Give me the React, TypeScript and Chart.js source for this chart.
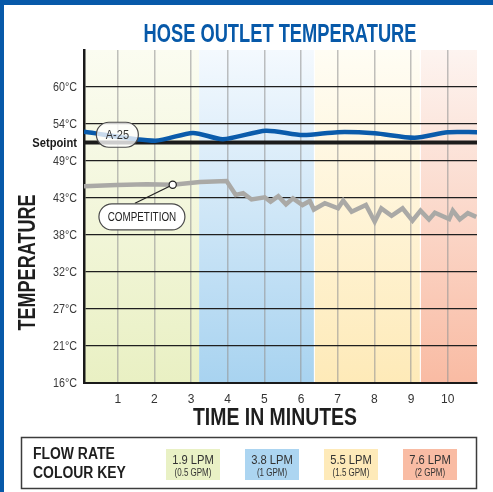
import React, { useEffect, useRef } from 'react';
import { Chart, registerables } from 'chart.js';

Chart.register(...registerables);

// ---- data ----
const xMin = 0.08;
const xMax = 10.8;
const xTicks = [1, 2, 3, 4, 5, 6, 7, 8, 9, 10];
const yTicksF = [60, 70, 80, 90, 100, 110, 120, 130, 140];
const yTickLabels = ['16°C', '21°C', '27°C', '32°C', '38°C', '43°C', '49°C', '54°C', '60°C'];
const yMinF = 60;
const yMaxF = 150;
const setpointF = 125;
const setpointLabel = 'Setpoint';

const a25Time = [0.08, 2.02, 3.05, 3.87, 5.04, 6.05, 7.0, 8.01, 9.1, 10.0, 10.8];
const a25TempF = [127.9, 125.5, 127.6, 125.9, 128.2, 127.0, 127.8, 127.5, 126.3, 127.8, 127.8];

const compTime = [0.08, 0.97, 1.79, 2.5, 3.24, 3.97, 4.22, 4.42, 4.65, 5.01, 5.17, 5.38, 5.59, 5.78, 6.04, 6.24, 6.35, 6.65, 7.01, 7.15, 7.38, 7.77, 8.01, 8.19, 8.47, 8.77, 9.04, 9.26, 9.49, 9.65, 10.04, 10.14, 10.33, 10.55, 10.78];
const compTempF = [113.2, 113.5, 113.7, 113.6, 114.3, 114.6, 110.8, 111.3, 109.6, 110.2, 109.0, 110.5, 108.3, 109.9, 108.1, 109.2, 106.9, 108.6, 107.2, 109.3, 106.3, 108.1, 103.6, 107.2, 105.2, 107.2, 103.9, 106.6, 104.2, 106.0, 104.3, 106.6, 104.2, 105.9, 104.9];

const flowLpm = ['1.9 LPM', '3.8 LPM', '5.5 LPM', '7.6 LPM'];
const flowGpm = ['(0.5 GPM)', '(1 GPM)', '(1.5 GPM)', '(2 GPM)'];
const flowStart = [0.08, 3.22, 6.38, 9.27];
const flowEnd = [3.22, 6.35, 9.24, 10.8];

const seriesNames = ['A-25', 'COMPETITION'];
const titleText = 'HOSE OUTLET TEMPERATURE';
const xTitle = 'TIME IN MINUTES';
const yTitle = 'TEMPERATURE';
const keyTitle = ['FLOW RATE', 'COLOUR KEY'];

// ---- styles ----
const BLUE = '#0759a9';
const bandTop = ['#fbfcf1', '#f4f9fe', '#fffdf4', '#fdf4f0'];
const bandBottom = ['#e9f0c3', '#a8d3f0', '#feeab8', '#f9bba3'];
const swatch = ['#e9f1c5', '#acd5f1', '#feeab9', '#f9bca4'];
const SANS = '"Liberation Sans", Arial, sans-serif';

function drawScaled(ctx: CanvasRenderingContext2D, text: string, x: number, y: number, font: string, color: string, sx: number, align: 'left' | 'center' | 'right' = 'center') {
  ctx.save();
  ctx.font = font;
  ctx.fillStyle = color;
  ctx.textBaseline = 'alphabetic';
  ctx.textAlign = 'left';
  const w = ctx.measureText(text).width * sx;
  const left = align === 'center' ? x - w / 2 : align === 'right' ? x - w : x;
  ctx.translate(left, y);
  ctx.scale(sx, 1);
  ctx.fillText(text, 0, 0);
  ctx.restore();
}

function drawFit(ctx: CanvasRenderingContext2D, text: string, cx: number, y: number, font: string, color: string, width: number) {
  ctx.save();
  ctx.font = font;
  const w = ctx.measureText(text).width;
  ctx.restore();
  drawScaled(ctx, text, cx, y, font, color, width / w, 'center');
}

function pill(ctx: CanvasRenderingContext2D, cx: number, cy: number, w: number, h: number, fill: string) {
  ctx.save();
  ctx.beginPath();
  ctx.roundRect(cx - w / 2, cy - h / 2, w, h, h / 2);
  ctx.fillStyle = fill;
  ctx.fill();
  ctx.lineWidth = 1.2;
  ctx.strokeStyle = '#4a4a4a';
  ctx.stroke();
  ctx.restore();
}

const decorPlugin = {
  id: 'decor',
  beforeDraw(chart: any) {
    const { ctx, chartArea } = chart;
    const xs = chart.scales.x;
    ctx.save();
    ctx.fillStyle = '#ffffff';
    ctx.fillRect(0, 0, chart.width, chart.height);
    for (let i = 0; i < flowStart.length; i++) {
      const x0 = xs.getPixelForValue(flowStart[i]);
      const x1 = xs.getPixelForValue(flowEnd[i]);
      const g = ctx.createLinearGradient(0, chartArea.top, 0, chartArea.bottom);
      g.addColorStop(0, bandTop[i]);
      g.addColorStop(1, bandBottom[i]);
      ctx.fillStyle = g;
      ctx.fillRect(x0, chartArea.top, x1 - x0, chartArea.bottom - chartArea.top);
    }
    ctx.restore();
  },
  afterDatasetsDraw(chart: any) {
    const { ctx } = chart;
    const xs = chart.scales.x;
    const ys = chart.scales.y;
    const px = (v: number) => xs.getPixelForValue(v);
    const py = (v: number) => ys.getPixelForValue(v);
    // competition leader
    const mx = px(compTime[3]);
    const my = py(compTempF[3]);
    ctx.save();
    ctx.strokeStyle = '#222';
    ctx.lineWidth = 1.2;
    ctx.beginPath();
    ctx.moveTo(px(1.47), py(108.6));
    ctx.lineTo(mx, my);
    ctx.stroke();
    ctx.beginPath();
    ctx.arc(mx, my, 3.6, 0, Math.PI * 2);
    ctx.fillStyle = '#fff';
    ctx.fill();
    ctx.strokeStyle = '#222';
    ctx.stroke();
    ctx.restore();
    // A-25 pill
    const ax = px(0.99), ay = py(127.1);
    pill(ctx, ax, ay, 42, 25, 'rgba(255,255,255,0.78)');
    drawScaled(ctx, seriesNames[0], ax, ay + 4.6, `13px ${SANS}`, '#333', 0.85);
    const cx = px(1.66), cy = py(104.9);
    pill(ctx, cx, cy, 86, 26, '#ffffff');
    drawScaled(ctx, seriesNames[1], cx, cy + 4.5, `12.5px ${SANS}`, '#222', 0.79);
  },
  afterDraw(chart: any) {
    const { ctx, chartArea } = chart;
    const ys = chart.scales.y;
    // y tick labels
    const labelRight = chartArea.left - 7;
    ys.ticks.forEach((t: any) => {
      const y = ys.getPixelForValue(t.value);
      if (t.value === setpointF) {
        drawScaled(ctx, setpointLabel, labelRight, y + 4.6, `bold 13px ${SANS}`, '#1a1a1a', 0.86, 'right');
      } else {
        const idx = yTicksF.indexOf(t.value);
        if (idx >= 0) drawScaled(ctx, yTickLabels[idx], labelRight, y + 4.4, `12.5px ${SANS}`, '#3a3a3a', 0.86, 'right');
      }
    });
    ctx.save();
    // blue frame
    ctx.fillStyle = BLUE;
    ctx.fillRect(0, 0, chart.width, 5);
    ctx.fillRect(0, 0, 4, chart.height);
    ctx.restore();
    // title
    drawFit(ctx, titleText, 280, 42, `bold 26px ${SANS}`, BLUE, 273);
    // x title
    drawFit(ctx, xTitle, 275, 425, `bold 24px ${SANS}`, '#1e1e1e', 164);
    // y title
    ctx.save();
    ctx.translate(35, 262.5);
    ctx.rotate(-Math.PI / 2);
    drawFit(ctx, yTitle, 0, 0, `bold 24px ${SANS}`, '#1e1e1e', 136);
    ctx.restore();
    // key box
    ctx.save();
    ctx.strokeStyle = '#3c3c3c';
    ctx.lineWidth = 1.5;
    ctx.strokeRect(21.5, 437.5, 455, 51);
    ctx.restore();
    drawScaled(ctx, keyTitle[0], 33, 459, `bold 16px ${SANS}`, '#1e1e1e', 0.87, 'left');
    drawScaled(ctx, keyTitle[1], 33, 478, `bold 16px ${SANS}`, '#1e1e1e', 0.87, 'left');
    for (let i = 0; i < flowLpm.length; i++) {
      const left = 166 + i * 79;
      ctx.save();
      ctx.fillStyle = swatch[i];
      ctx.fillRect(left, 449, 54, 31);
      ctx.restore();
      drawScaled(ctx, flowLpm[i], left + 27, 464, `13px ${SANS}`, '#333', 0.86);
      drawScaled(ctx, flowGpm[i], left + 27, 476, `10px ${SANS}`, '#333', 0.8);
    }
  },
};

export default function App() {
  const ref = useRef<HTMLCanvasElement | null>(null);
  useEffect(() => {
    if (!ref.current) return;
    const chart = new Chart(ref.current, {
      type: 'line',
      data: {
        datasets: [
          {
            label: seriesNames[0],
            data: a25Time.map((t, i) => ({ x: t, y: a25TempF[i] })),
            borderColor: '#0a5bab',
            borderWidth: 4.5,
            pointRadius: 0,
            tension: 0.25,
            borderJoinStyle: 'round',
            borderCapStyle: 'butt',
          },
          {
            label: seriesNames[1],
            data: compTime.map((t, i) => ({ x: t, y: compTempF[i] })),
            borderColor: '#aaa9a6',
            borderWidth: 4.5,
            pointRadius: 0,
            tension: 0,
            borderJoinStyle: 'miter',
          },
          {
            label: setpointLabel,
            data: [{ x: xMin, y: setpointF }, { x: xMax, y: setpointF }],
            borderColor: '#1c1c1c',
            borderWidth: 4,
            pointRadius: 0,
          },
        ],
      },
      options: {
        animation: false,
        responsive: false,
        events: [],
        layout: { padding: { top: 50, right: 16, left: 0, bottom: 0 } },
        plugins: { legend: { display: false }, tooltip: { enabled: false }, title: { display: false } },
        scales: {
          x: {
            type: 'linear',
            min: xMin,
            max: xMax,
            afterBuildTicks: (s: any) => { s.ticks = xTicks.map((v) => ({ value: v })); },
            afterFit: (s: any) => { s.height = 109; },
            grid: { color: 'rgba(150,150,150,0.6)', lineWidth: 1.5, drawTicks: false },
            border: { display: true, color: '#1a1a1a', width: 2 },
            ticks: { padding: 9, color: '#333', font: { family: SANS, size: 12 }, callback: (v: any) => String(v) },
          },
          y: {
            type: 'linear',
            min: yMinF,
            max: yMaxF,
            afterBuildTicks: (s: any) => {
              s.ticks = [...yTicksF, setpointF].sort((a, b) => a - b).map((v) => ({ value: v }));
            },
            afterFit: (s: any) => { s.width = 84; },
            grid: {
              color: (c: any) => (c.tick && c.tick.value === setpointF ? 'rgba(0,0,0,0)' : '#1f1f1f'),
              lineWidth: 1.3,
              drawTicks: false,
            },
            border: { display: true, color: '#1a1a1a', width: 2.5 },
            ticks: { display: false },
          },
        },
      },
      plugins: [decorPlugin],
    } as any);
    return () => chart.destroy();
  }, []);
  return (
    <div style={{ position: 'absolute', left: 0, top: 0, width: 493, height: 492 }}>
      <canvas ref={ref} width={493} height={492} style={{ display: 'block', width: 493, height: 492 }} />
    </div>
  );
}
